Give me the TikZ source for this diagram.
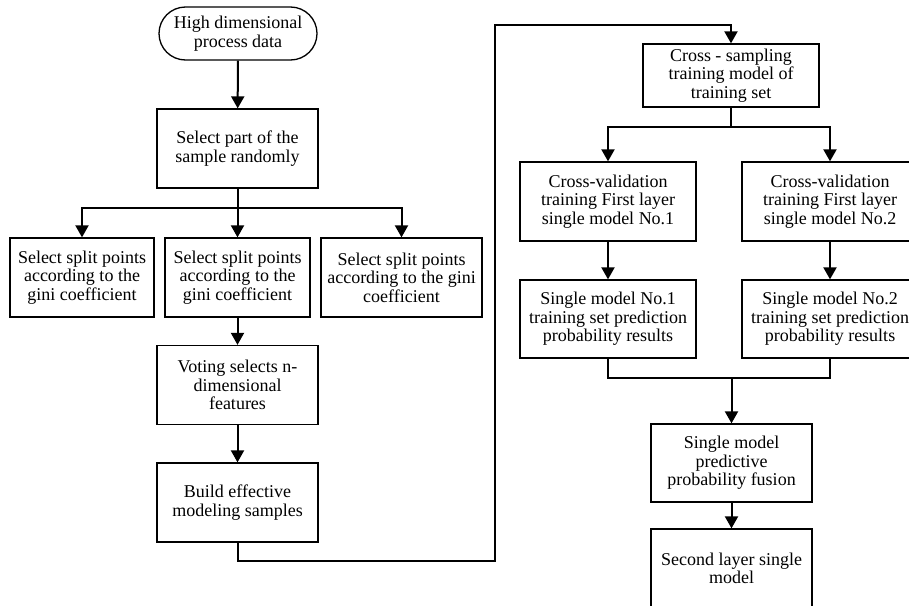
\documentclass[tikz,border=0pt]{standalone}
\usepackage{fontspec}
\setmainfont{Liberation Serif}
\usetikzlibrary{arrows.meta,shapes.misc}
\begin{document}
\begin{tikzpicture}[x=1pt,y=-1pt,
  box/.style={draw, line width=1.3pt, align=center, inner sep=1pt,
    font=\fontsize{18}{18.5}\selectfont},
  term/.style={box, rounded rectangle},
  arr/.style={line width=2pt, -{Triangle[width=13pt,length=12pt]}},
  ln/.style={line width=2pt}]
\useasboundingbox (0,0) rectangle (909,605);
\clip (0,0) rectangle (909,605);
\fill[white] (0,0) rectangle (909,605);
% left column
\node[term, minimum width=160pt, minimum height=53pt] (start) at (238,33.5) {High dimensional\\process data};
\node[box, minimum width=161pt, minimum height=79pt] (sel) at (237.5,148.5) {Select part of the\\sample randomly};
\node[box, minimum width=144pt, minimum height=79pt] (gL) at (82,277.5) {Select split points\\according to the\\gini coefficient};
\node[box, minimum width=145pt, minimum height=79pt] (gM) at (237.5,277.5) {Select split points\\according to the\\gini coefficient};
\node[box, minimum width=161pt, minimum height=79pt] (gR) at (401.5,277.5) {Select split points\\according to the gini\\coefficient};
\node[box, minimum width=161pt, minimum height=79pt] (vote) at (237.5,385) {Voting selects n-\\dimensional\\features};
\node[box, minimum width=161pt, minimum height=79pt] (build) at (237.5,502.5) {Build effective\\modeling samples};
% right column
\node[box, minimum width=176pt, minimum height=63pt] (cross) at (731,75.5) {Cross - sampling\\training model of\\training set};
\node[box, minimum width=176pt, minimum height=79pt] (cv1) at (608,201.5) {Cross-validation\\training First layer\\single model No.1};
\node[box, minimum width=176pt, minimum height=79pt] (cv2) at (830,201.5) {Cross-validation\\training First layer\\single model No.2};
\node[box, minimum width=176pt, minimum height=78pt] (sm1) at (608,319) {Single model No.1\\training set prediction\\probability results};
\node[box, minimum width=176pt, minimum height=78pt] (sm2) at (830,319) {Single model No.2\\training set prediction\\probability results};
\node[box, minimum width=161pt, minimum height=78pt] (fus) at (731.5,463) {Single model\\predictive\\probability fusion};
\node[box, minimum width=161pt, minimum height=79pt] (sec) at (731.5,568.5) {Second layer single\\model};
% helper coordinates
\coordinate (j1) at (237.5,208);
\coordinate (c1) at (495,561);
\coordinate (c2) at (731,25);
\coordinate (j2) at (731,127);
\coordinate (j3) at (731.5,378);
% connectors
\draw[arr] (start) -- (sel);
\draw[ln] (sel.south) -- (j1);
\draw[arr] (j1) -| (gL.north);
\draw[arr] (j1) -- (gM.north);
\draw[arr] (j1) -| (gR.north);
\draw[arr] (gM) -- (vote);
\draw[arr] (vote) -- (build);
\draw[arr] (build.south) |- (c1) |- (c2) -- (cross.north);
\draw[ln] (cross.south) -- (j2);
\draw[arr] (j2) -| (cv1.north);
\draw[arr] (j2) -| (cv2.north);
\draw[arr] (cv1) -- (sm1);
\draw[arr] (cv2) -- (sm2);
\draw[ln] (sm1.south) |- (j3) -| (sm2.south);
\draw[arr] (j3) -- (fus.north);
\draw[arr] (fus) -- (sec);
\end{tikzpicture}
\end{document}
